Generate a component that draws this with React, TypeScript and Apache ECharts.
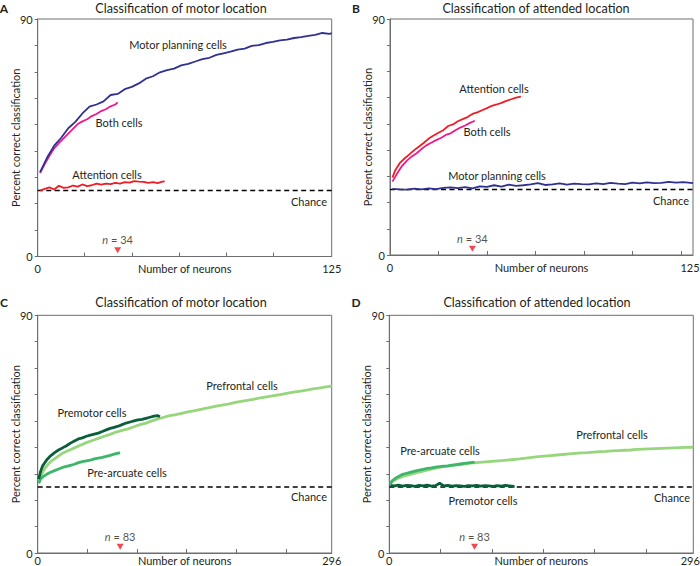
import React, { useEffect, useRef } from "react";
import * as echarts from "echarts";

// ---------- DATA: [number of neurons, percent correct] ----------
const CHANCE = 25;

// Panel A — classification of motor location (max 125 neurons)
const aMotorPlanning: number[][] = [
  [1, 32.0], [4, 37.5], [7, 42.0], [10, 45.0], [13, 48.6], [16, 51.0], [19, 54.2], [22, 56.8],
  [25, 57.6], [28, 58.8], [31, 61.2], [34, 61.6], [37, 63.4], [40, 64.3], [43, 65.6], [46, 67.4],
  [49, 68.3], [52, 69.8], [55, 70.6], [58, 71.2], [61, 72.4], [64, 73.0], [67, 73.9], [70, 74.8],
  [73, 75.3], [76, 76.4], [79, 77.0], [82, 77.6], [85, 78.4], [88, 78.8], [91, 79.8], [94, 80.1],
  [97, 80.9], [100, 81.3], [103, 81.9], [106, 82.2], [109, 82.8], [112, 83.1], [115, 83.6],
  [118, 84.0], [121, 84.7], [124, 84.4], [125, 84.6],
];
const aBoth: number[][] = [
  [1, 31.6], [3, 35.0], [5, 38.2], [7, 41.0], [9, 43.0], [11, 44.8], [13, 46.6], [15, 48.4],
  [17, 50.2], [19, 51.2], [21, 52.0], [23, 53.2], [25, 54.0], [27, 55.1], [29, 55.8], [31, 56.9],
  [33, 57.6], [34, 58.4],
];
const aAttention: number[][] = [
  [1, 25.0], [3, 25.6], [5, 26.2], [7, 25.4], [9, 26.8], [11, 26.0], [13, 26.2], [15, 26.9],
  [17, 26.5], [19, 27.3], [21, 26.7], [23, 27.0], [25, 27.6], [27, 27.2], [29, 27.6], [31, 27.4],
  [33, 27.9], [35, 27.6], [37, 28.2], [39, 28.0], [41, 28.6], [43, 28.4], [45, 28.3], [47, 27.9],
  [49, 28.2], [51, 27.8], [53, 28.4], [54, 28.5],
];

// Panel B — classification of attended location (max 125 neurons)
const bAttention: number[][] = [
  [1, 29.5], [2, 32.0], [4, 35.0], [6, 36.8], [8, 38.4], [10, 40.0], [12, 41.4], [14, 42.8],
  [16, 44.4], [18, 45.6], [20, 46.6], [22, 47.6], [24, 49.2], [26, 49.8], [28, 51.0], [30, 51.8],
  [32, 52.6], [34, 53.8], [36, 54.4], [38, 55.2], [40, 56.0], [42, 56.9], [44, 57.4], [46, 58.0],
  [48, 58.8], [50, 59.4], [52, 60.0], [54, 60.4],
];
const bBoth: number[][] = [
  [1, 28.0], [3, 31.2], [5, 34.0], [7, 36.0], [9, 37.6], [11, 38.8], [13, 40.4], [15, 41.8],
  [17, 42.8], [19, 43.8], [21, 44.6], [23, 45.8], [25, 46.4], [27, 47.6], [29, 48.6], [31, 49.4],
  [33, 50.4], [35, 51.2],
];
const bMotorPlanning: number[][] = [
  [1, 25.2], [4, 25.0], [7, 24.9], [10, 25.3], [13, 25.0], [16, 25.4], [19, 25.1], [22, 25.6],
  [25, 25.8], [28, 25.5], [31, 25.9], [34, 25.4], [37, 26.2], [40, 26.0], [43, 26.6], [46, 26.1],
  [49, 26.8], [52, 26.4], [55, 26.6], [58, 26.9], [61, 27.4], [64, 26.7], [67, 26.9], [70, 27.3],
  [73, 26.8], [76, 27.2], [79, 27.0], [82, 26.9], [85, 27.3], [88, 27.0], [91, 27.5], [94, 27.2],
  [97, 27.0], [100, 27.6], [103, 27.3], [106, 27.7], [109, 27.4], [112, 27.5], [115, 27.9],
  [118, 27.6], [121, 27.8], [124, 27.5], [125, 27.4],
];

// Panel C — classification of motor location (max 296 neurons)
const cPrefrontal: number[][] = [
  [1, 27.4], [7, 32.0], [13, 34.6], [19, 36.2], [25, 37.8], [31, 38.8], [37, 39.8], [43, 40.8],
  [49, 41.8], [55, 42.6], [61, 43.4], [67, 44.2], [73, 44.9], [79, 45.8], [85, 46.4], [91, 47.0],
  [97, 47.8], [103, 48.6], [109, 49.2], [115, 50.0], [121, 50.8], [127, 51.4], [133, 52.0],
  [139, 52.4], [145, 52.9], [151, 53.4], [157, 53.8], [163, 54.3], [169, 54.8], [175, 55.2],
  [181, 55.7], [187, 56.1], [193, 56.5], [199, 57.0], [205, 57.4], [211, 57.8], [217, 58.2],
  [223, 58.6], [229, 59.0], [235, 59.4], [241, 59.8], [247, 60.2], [253, 60.6], [259, 61.0],
  [265, 61.3], [271, 61.7], [277, 62.1], [283, 62.4], [289, 62.8], [295, 63.2], [296, 62.9],
];
const cPremotor: number[][] = [
  [1, 28.0], [3, 31.0], [5, 33.0], [9, 35.2], [13, 36.8], [17, 38.0], [21, 39.0], [25, 39.8],
  [29, 40.6], [33, 41.6], [37, 42.4], [41, 43.2], [45, 43.6], [49, 44.2], [53, 44.6], [57, 45.0],
  [61, 45.4], [65, 46.0], [69, 46.6], [73, 47.2], [77, 47.6], [81, 48.0], [85, 48.6], [89, 49.2],
  [93, 49.6], [97, 50.0], [101, 50.4], [105, 50.6], [109, 51.0], [113, 51.4], [117, 51.8],
  [121, 52.0], [123, 51.6],
];
const cPreArcuate: number[][] = [
  [1, 26.4], [3, 28.0], [5, 28.8], [9, 29.8], [13, 30.6], [17, 31.2], [21, 31.8], [25, 32.4],
  [29, 32.8], [33, 33.2], [37, 33.6], [41, 34.2], [45, 34.6], [49, 34.9], [53, 35.2], [57, 35.6],
  [61, 35.9], [65, 36.2], [69, 36.6], [73, 37.0], [77, 37.4], [81, 37.8], [83, 37.9],
];

// Panel D — classification of attended location (max 296 neurons)
const dPrefrontal: number[][] = [
  [1, 26.6], [7, 28.0], [13, 29.0], [19, 29.6], [25, 30.2], [31, 30.8], [37, 31.4], [43, 31.9],
  [49, 32.4], [55, 32.8], [61, 33.1], [67, 33.4], [73, 33.7], [79, 34.0], [85, 34.2], [91, 34.4],
  [97, 34.6], [103, 34.8], [109, 35.0], [115, 35.2], [121, 35.4], [127, 35.6], [133, 35.9],
  [139, 36.2], [145, 36.5], [151, 36.7], [157, 36.9], [163, 37.1], [169, 37.3], [175, 37.5],
  [181, 37.7], [187, 37.9], [193, 38.0], [199, 38.2], [205, 38.4], [211, 38.5], [217, 38.7],
  [223, 38.8], [229, 38.9], [235, 39.0], [241, 39.2], [247, 39.3], [253, 39.4], [259, 39.5],
  [265, 39.6], [271, 39.7], [277, 39.8], [283, 39.9], [289, 40.0], [295, 40.1], [296, 40.0],
];
const dPreArcuate: number[][] = [
  [1, 26.2], [3, 27.4], [5, 28.0], [9, 29.0], [13, 29.8], [17, 30.2], [21, 30.6], [25, 31.0],
  [29, 31.4], [33, 31.7], [37, 32.0], [41, 32.2], [45, 32.5], [49, 32.7], [53, 32.9], [57, 33.0],
  [61, 33.3], [65, 33.5], [69, 33.7], [73, 33.9], [77, 34.1], [81, 34.3], [83, 34.3],
];
const dPremotor: number[][] = [
  [1, 25.6], [5, 25.4], [9, 25.7], [13, 25.3], [17, 25.6], [21, 25.5], [25, 25.2], [29, 25.6],
  [33, 25.4], [37, 25.7], [41, 25.3], [45, 25.5], [49, 26.4], [53, 25.4], [57, 25.6], [61, 25.3],
  [65, 25.5], [69, 25.4], [73, 25.2], [77, 25.5], [81, 25.4], [85, 25.6], [89, 25.3], [93, 25.5],
  [97, 25.4], [101, 25.2], [105, 25.5], [109, 25.3], [113, 25.6], [117, 25.4], [121, 25.2],
  [122, 25.3],
];

// Axis settings
const smallMax = 125;
const bigMax = 296;
const aTicks = [0, 20, 40, 60, 80, 100];
const bTicks = [0, 20, 40, 60, 80, 100, 120];
const bigTicks = [0, 50, 100, 150, 200, 250];
const yTicks = [0, 10, 20, 30, 40, 50, 60, 70, 80, 90];
const markerSmall = 34;
const markerBig = 83;

const panelTitles = [
  "Classification of motor location",
  "Classification of attended location",
  "Classification of motor location",
  "Classification of attended location",
];
const panelLetters = ["A", "B", "C", "D"];

// ---------- STYLE ----------
const FONT = "Lato, 'Liberation Sans', sans-serif";
const TXT = "#231f20";
const AX = "#6d6e71";
const BLUE = "#2e3192";
const MAGENTA = "#ec1a8c";
const RED = "#ee1c25";
const G_LIGHT = "#98d67e";
const G_DARK = "#0b5e3a";
const G_MID = "#3db56b";
const FS = 11;

const grids = [
  { left: 37.7, top: 19, width: 294, height: 237.5 },
  { left: 390, top: 19, width: 303, height: 236 },
  { left: 37.7, top: 315.3, width: 294, height: 237.7 },
  { left: 389.3, top: 315.3, width: 304, height: 237.7 },
];

function buildOption() {
  const tickSets = [aTicks, bTicks, bigTicks, bigTicks];
  const xAxes = grids.map((_, i) => {
    const max = i < 2 ? smallMax : bigMax;
    const rightPanel = i === 1 || i === 3;
    const bottomRow = i >= 2;
    const lh = bottomRow ? 11 : 14;
    return {
      gridIndex: i,
      type: "value",
      min: 0,
      max,
      name: "Number of neurons",
      nameLocation: "middle",
      nameGap: bottomRow ? 1.5 : 5,
      nameMoveOverlap: false,
      nameTextStyle: {
        fontSize: FS,
        color: TXT,
        fontFamily: FONT,
        verticalAlign: "top",
        lineHeight: lh,
      },
      axisLine: { show: true, onZero: false, lineStyle: { color: AX, width: 1 } },
      axisTick: {
        show: true,
        inside: true,
        length: 4,
        customValues: tickSets[i],
        lineStyle: { color: AX },
      },
      axisLabel: {
        customValues: [0, max],
        fontSize: FS,
        color: TXT,
        fontFamily: FONT,
        lineHeight: lh,
        margin: bottomRow ? 1.5 : 5,
        formatter: (v: number) => (rightPanel && v === max ? `{r|${v}}` : `${v}`),
        rich: {
          r: { fontSize: FS, color: TXT, fontFamily: FONT, lineHeight: lh, padding: [0, 6, 0, 0] },
        },
      },
      splitLine: { show: false },
    };
  });
  const yAxes = grids.map((_, i) => ({
    gridIndex: i,
    type: "value",
    min: 0,
    max: 90,
    name: "Percent correct classification",
    nameLocation: "middle",
    nameGap: 17,
    nameMoveOverlap: false,
    nameTextStyle: { fontSize: FS, color: TXT, fontFamily: FONT },
    axisLine: { show: true, lineStyle: { color: AX, width: 1 } },
    axisTick: { show: true, inside: false, length: 3, customValues: yTicks, lineStyle: { color: AX } },
    axisLabel: { customValues: [0, 90], fontSize: FS, color: TXT, fontFamily: FONT, margin: 5 },
    splitLine: { show: false },
  }));

  const line = (idx: number, data: number[][], color: string, width: number, z = 2) => ({
    type: "line",
    xAxisIndex: idx,
    yAxisIndex: idx,
    data,
    symbol: "none",
    lineStyle: { color, width },
    z,
    silent: true,
  });
  const chance = (idx: number, max: number) => ({
    type: "line",
    xAxisIndex: idx,
    yAxisIndex: idx,
    data: [
      [0, CHANCE],
      [max, CHANCE],
    ],
    symbol: "none",
    lineStyle: { color: "#000", width: 1.4, type: [5, 3.5] },
    z: 1,
    silent: true,
  });
  const marker = (idx: number, n: number) => ({
    type: "scatter",
    xAxisIndex: idx,
    yAxisIndex: idx,
    data: [[n, 2.4]],
    symbol: "triangle",
    symbolRotate: 180,
    symbolSize: [7, 6],
    itemStyle: { color: RED },
    label: {
      show: true,
      position: "top",
      distance: 2,
      formatter: `{i|n} = ${n}`,
      fontSize: FS,
      color: TXT,
      fontFamily: FONT,
      rich: { i: { fontStyle: "italic", fontSize: FS, color: TXT, fontFamily: FONT } },
    },
    silent: true,
  });

  const series = [
    chance(0, smallMax),
    line(0, aAttention, RED, 1.8),
    line(0, aBoth, MAGENTA, 1.8),
    line(0, aMotorPlanning, BLUE, 1.8, 3),
    marker(0, markerSmall),

    chance(1, smallMax),
    line(1, bMotorPlanning, BLUE, 1.8),
    line(1, bBoth, MAGENTA, 1.8),
    line(1, bAttention, RED, 1.8, 3),
    marker(1, markerSmall),

    chance(2, bigMax),
    line(2, cPrefrontal, G_LIGHT, 2.8),
    line(2, cPreArcuate, G_MID, 2.8, 3),
    line(2, cPremotor, G_DARK, 2.8, 4),
    marker(2, markerBig),

    chance(3, bigMax),
    line(3, dPrefrontal, G_LIGHT, 2.8),
    line(3, dPreArcuate, G_MID, 2.8, 3),
    line(3, dPremotor, G_DARK, 2.8, 4),
    marker(3, markerBig),
  ];

  const txt = (x: number, y: number, s: string, extra: any = {}) => ({
    type: "text",
    x,
    y,
    style: {
      text: s,
      fill: TXT,
      fontSize: FS,
      fontFamily: FONT,
      align: "center",
      verticalAlign: "middle",
      ...extra,
    },
    silent: true,
  });

  const titleCenters = [
    [181, 8],
    [536, 8],
    [181, 302],
    [537, 302],
  ];
  const letterPos = [
    [4, 8],
    [356, 8],
    [4, 302],
    [356, 302],
  ];

  const graphics: any[] = [];
  titleCenters.forEach((p, i) =>
    graphics.push(txt(p[0], p[1], panelTitles[i], { fontSize: 12.6 }))
  );
  letterPos.forEach((p, i) =>
    graphics.push(txt(p[0], p[1], panelLetters[i], { fontSize: 12, fontWeight: "bold" }))
  );
  // Panel A annotations
  graphics.push(txt(178, 44, "Motor planning cells"));
  graphics.push(txt(119, 122, "Both cells"));
  graphics.push(txt(107, 174, "Attention cells"));
  graphics.push(txt(309, 201, "Chance"));
  // Panel B annotations
  graphics.push(txt(494, 88, "Attention cells"));
  graphics.push(txt(487, 131, "Both cells"));
  graphics.push(txt(497, 175, "Motor planning cells"));
  graphics.push(txt(671, 200, "Chance"));
  // Panel C annotations
  graphics.push(txt(92, 412, "Premotor cells"));
  graphics.push(txt(242, 385, "Prefrontal cells"));
  graphics.push(txt(127, 472, "Pre-arcuate cells"));
  graphics.push(txt(309, 496, "Chance"));
  // Panel D annotations
  graphics.push(txt(440, 450, "Pre-arcuate cells"));
  graphics.push(txt(612, 434, "Prefrontal cells"));
  graphics.push(txt(483, 500, "Premotor cells"));
  graphics.push(txt(672, 497, "Chance"));

  return {
    animation: false,
    backgroundColor: "#ffffff",
    textStyle: { fontFamily: FONT },
    grid: grids.map((g) => ({
      ...g,
      show: true,
      borderColor: AX,
      borderWidth: 1,
      backgroundColor: "transparent",
      containLabel: false,
      outerBoundsMode: "none",
    })),
    xAxis: xAxes,
    yAxis: yAxes,
    series,
    graphic: graphics,
  };
}

export default function App() {
  const ref = useRef<HTMLDivElement>(null);
  useEffect(() => {
    if (!ref.current) return;
    const chart = echarts.init(ref.current, undefined, { renderer: "svg" });
    chart.setOption(buildOption() as any);
    return () => chart.dispose();
  }, []);
  return (
    <div
      ref={ref}
      style={{ position: "fixed", left: 0, top: 0, width: 700, height: 566, background: "#fff" }}
    />
  );
}
